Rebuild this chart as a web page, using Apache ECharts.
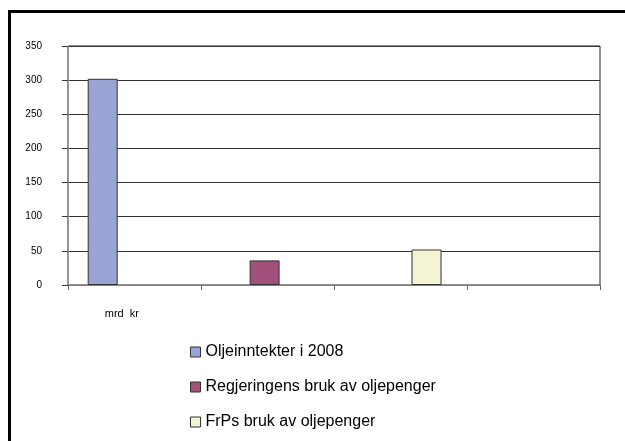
<!DOCTYPE html>
<html>
<head>
<meta charset="utf-8">
<script src="https://cdn.jsdelivr.net/npm/echarts@6/dist/echarts.min.js"></script>
<style>html,body{margin:0;padding:0;background:#fff;}#c{width:625px;height:441px;}</style>
</head>
<body>
<div id="c"></div>
<script>
// ---- data ----
const categoryLabel = 'mrd  kr';
const seriesNames = ['Oljeinntekter i 2008', 'Regjeringens bruk av oljepenger', 'FrPs bruk av oljepenger'];
const seriesValues = [302, 36, 52];
const yTicks = [0, 50, 100, 150, 200, 250, 300, 350];
const tickGroups = ['', '', '', ''];

// ---- layout (not data) ----
const slotCount = 23;
const barSlots = [1, 8, 15];
const labelSlot = 2;
const colors = ['#99A3D4', '#A0507A', '#F4F4D4'];

const slotCats = [];
for (let i = 0; i < slotCount; i++) slotCats.push(i === labelSlot ? categoryLabel : ' ' + i);

const series = seriesNames.map((name, k) => {
  const d = new Array(slotCount).fill(null);
  d[barSlots[k]] = seriesValues[k];
  return {
    name, type: 'bar', xAxisIndex: 0, data: d,
    barWidth: 30, barGap: '-100%',
    itemStyle: { color: colors[k], borderColor: '#333', borderWidth: 1 },
    emphasis: { disabled: true }
  };
});

const chart = echarts.init(document.getElementById('c'), null, { renderer: 'canvas' });
chart.setOption({
  animation: false,
  backgroundColor: '#fff',
  textStyle: { fontFamily: 'Liberation Sans, Arial, sans-serif' },
  grid: { left: 68, right: 25, top: 46, bottom: 156, show: true, borderColor: '#222', borderWidth: 1, backgroundColor: 'transparent' },
  xAxis: [
    {
      type: 'category', data: slotCats, position: 'bottom',
      axisLine: { show: true, lineStyle: { color: '#808080' } },
      axisTick: { show: false },
      axisLabel: {
        interval: 0, margin: 23, fontSize: 11, color: '#000', padding: [0, 8, 0, 0],
        formatter: v => (v === categoryLabel ? v : '')
      },
      splitLine: { show: false }
    },
    {
      type: 'category', data: tickGroups, position: 'bottom', boundaryGap: true,
      axisLine: { show: true, lineStyle: { color: '#808080' } },
      axisTick: { show: true, interval: 0, length: 5, lineStyle: { color: '#666' } },
      axisLabel: { show: false }, splitLine: { show: false }
    }
  ],
  yAxis: {
    type: 'value', min: yTicks[0], max: yTicks[yTicks.length - 1], interval: yTicks[1] - yTicks[0],
    axisLine: { show: true, lineStyle: { color: '#999' } },
    axisTick: { show: true, length: 6, lineStyle: { color: '#333' } },
    axisLabel: { fontSize: 10, color: '#000', margin: 26 },
    splitLine: { show: true, lineStyle: { color: '#333', width: 1 } }
  },
  legend: {
    orient: 'vertical', left: 185, top: 339, itemGap: 19,
    itemWidth: 10, itemHeight: 10, icon: 'rect',
    textStyle: { fontSize: 16, color: '#000', padding: [0, 0, 0, 0] },
    data: seriesNames.map((n, k) => ({ name: n, itemStyle: { color: colors[k], borderColor: '#333', borderWidth: 1 } })),
    selectedMode: false
  },
  graphic: [
    { type: 'line', shape: { x1: 8, y1: 11.5, x2: 625, y2: 11.5 }, style: { stroke: '#000', lineWidth: 3 } },
    { type: 'line', shape: { x1: 9.5, y1: 10, x2: 9.5, y2: 441 }, style: { stroke: '#000', lineWidth: 3 } }
  ],
  series
});
</script>
</body>
</html>
